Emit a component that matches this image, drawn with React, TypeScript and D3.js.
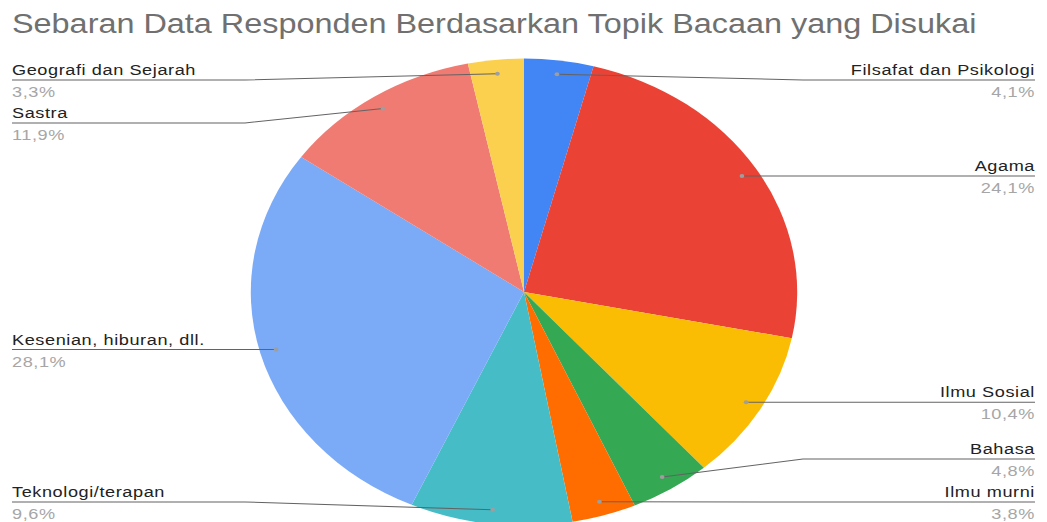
import React from 'react';
import * as d3 from 'd3';

// --- data (clockwise from 12 o'clock) ---
const categories = [
  'Filsafat dan Psikologi',
  'Agama',
  'Ilmu Sosial',
  'Bahasa',
  'Ilmu murni',
  'Teknologi/terapan',
  'Kesenian, hiburan, dll.',
  'Sastra',
  'Geografi dan Sejarah',
];
const shares = [4.1, 24.1, 10.4, 4.8, 3.8, 9.6, 28.1, 11.9, 3.3];
const sliceColors = [
  '#4285f4', '#ea4335', '#fbbc04', '#34a853', '#ff6d01',
  '#46bdc6', '#7baaf7', '#f07b72', '#fcd04f',
];
const title = 'Sebaran Data Responden Berdasarkan Topik Bacaan yang Disukai';

// the reference is stretched horizontally, so draw in unstretched units and scale x
const W = 1047;
const H = 522;
const SX = 1.17;
const cx = 524 / SX;
const cy = 292;
const r = 233.5;
const labelTop = 80;
const labelBottom = 502;
const gap = 43;

const idLocale = d3.formatLocale({ decimal: ',', thousands: '.', grouping: [3], currency: ['Rp', ''] });
const fmt = idLocale.format('.1f');

const App = () => {
  const items = categories.map((name, i) => ({ name, value: shares[i], color: sliceColors[i] }));
  const pie = d3.pie<any>().sort(null).value((d) => d.value);
  const arcs = pie(items);
  const arc = d3.arc<any>().innerRadius(0).outerRadius(r);
  const total = d3.sum(shares);

  // label anchors: point on the slice at 94% radius
  const labels = arcs.map((a) => {
    const mid = (a.startAngle + a.endAngle) / 2;
    const k = r * 0.94;
    const px = cx + k * Math.sin(mid);
    const py = cy - k * Math.cos(mid);
    return { a, mid, px, py, y: py, right: mid < Math.PI };
  });

  // push labels apart on each side
  [true, false].forEach((side) => {
    const group = labels.filter((l) => l.right === side).sort((p, q) => p.py - q.py);
    let prev = -Infinity;
    group.forEach((l) => {
      l.y = Math.max(l.py, labelTop, prev + gap);
      prev = l.y;
    });
    let next = Infinity;
    for (let i = group.length - 1; i >= 0; i--) {
      const l = group[i];
      l.y = Math.min(l.y, labelBottom, next - gap);
      next = l.y;
    }
  });

  const leftX = 12 / SX;
  const rightX = 1035 / SX;

  return (
    <svg width={W} height={H} style={{ position: 'absolute', left: 0, top: 0 }}
      fontFamily="'Liberation Sans', Arial, sans-serif">
      <rect width={W} height={H} fill="#ffffff" />
      <g transform={`scale(${SX},1)`}>
        <text x={leftX} y={33} fontSize={27.7} fill="#707070">{title}</text>

        <g transform={`translate(${cx},${cy})`}>
          {arcs.map((a, i) => (
            <path key={i} d={arc(a) || ''} fill={a.data.color} />
          ))}
        </g>

        {labels.map((l, i) => {
          const elbowX = l.right ? cx + r + 5 : cx - r - 5;
          const endX = l.right ? rightX : leftX;
          const pts: [number, number][] = [[l.px, l.py]];
          if (l.right ? l.px < elbowX : l.px > elbowX) pts.push([elbowX, l.y]);
          pts.push([endX, l.y]);
          const line = d3.line();
          const anchor = l.right ? 'end' : 'start';
          return (
            <g key={i}>
              <path d={line(pts) || ''} fill="none" stroke="#636363" strokeWidth={1} />
              <circle cx={l.px} cy={l.py} r={2} fill="#9e9e9e" />
              <text x={endX} y={l.y - 5} fontSize={15.5} letterSpacing={0.5} fill="#222222"
                textAnchor={anchor}>{l.a.data.name}</text>
              <text x={endX} y={l.y + 17} fontSize={15.5} letterSpacing={0.5} fill="#a6a6a6"
                textAnchor={anchor}>{fmt((l.a.data.value / total) * 100)}%</text>
            </g>
          );
        })}
      </g>
    </svg>
  );
};

export default App;
